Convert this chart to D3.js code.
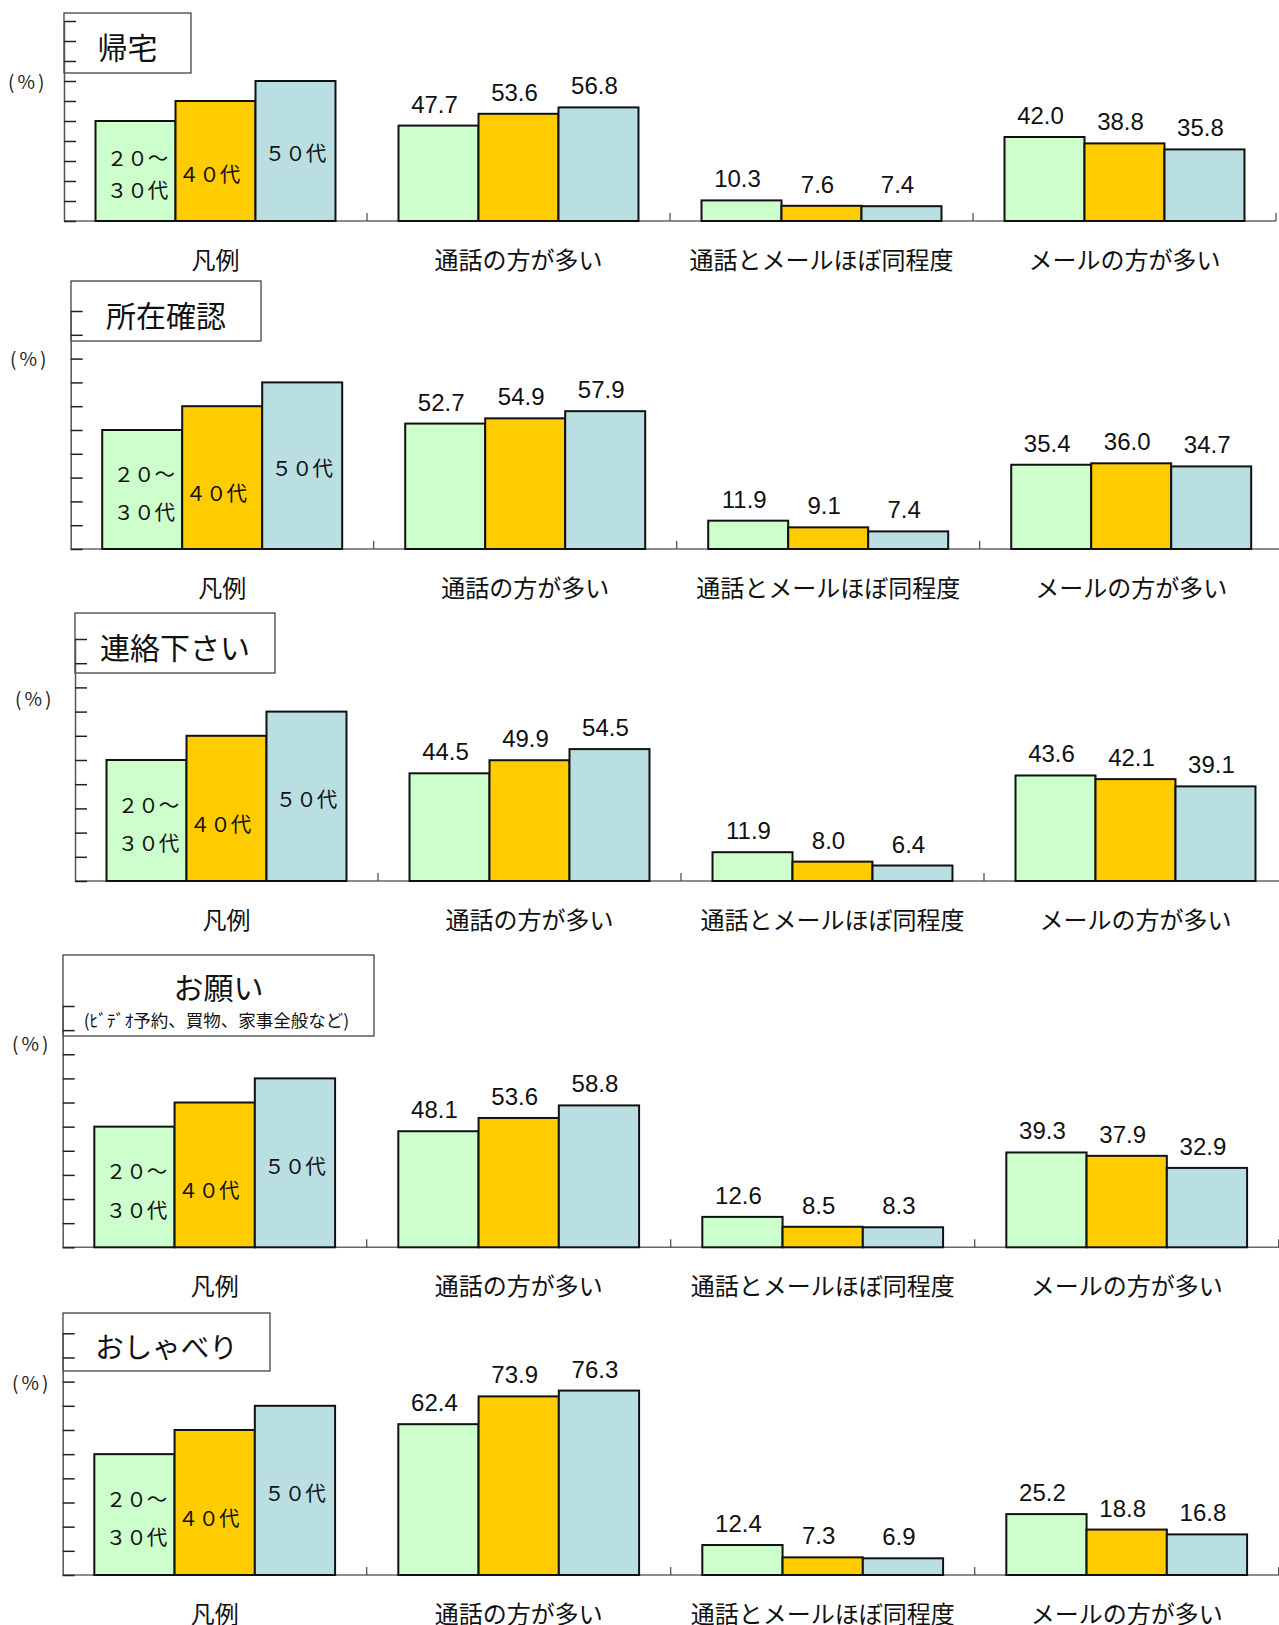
<!DOCTYPE html>
<html>
<head>
<meta charset="utf-8">
<title>通話とメールの使い分け</title>
<script src="https://cdnjs.cloudflare.com/ajax/libs/d3/7.8.5/d3.min.js"></script>
<style>
    body { margin: 0; background: #fff; }
    svg text { font-family: "Noto Sans CJK JP", "Noto Sans", sans-serif; }
</style>
</head>
<body>
<div id="vis"></div>
<script>
// categories and series
var categories = ["凡例", "通話の方が多い", "通話とメールほぼ同程度", "メールの方が多い"];
var ageGroups = ["20～30代", "40代", "50代"];
var legendLabels = [["２０～", "３０代"], ["４０代"], ["５０代"]];
var legendValues = [50, 60, 70];   // the sample bars in the 凡例 slot
var titles = ["帰宅", "所在確認", "連絡下さい", "お願い", "おしゃべり"];
var subtitles = ["", "", "", "(ﾋﾞﾃﾞｵ予約、買物、家事全般など)", ""];
var yTicks = [0, 10, 20, 30, 40, 50, 60, 70, 80, 90, 100];

// values (%) : one row per category (通話 / 同程度 / メール), one value per age group
var kitaku   = [[47.7, 53.6, 56.8], [10.3, 7.6, 7.4], [42.0, 38.8, 35.8]];
var shozai   = [[52.7, 54.9, 57.9], [11.9, 9.1, 7.4], [35.4, 36.0, 34.7]];
var renraku  = [[44.5, 49.9, 54.5], [11.9, 8.0, 6.4], [43.6, 42.1, 39.1]];
var onegai   = [[48.1, 53.6, 58.8], [12.6, 8.5, 8.3], [39.3, 37.9, 32.9]];
var oshaberi = [[62.4, 73.9, 76.3], [12.4, 7.3, 6.9], [25.2, 18.8, 16.8]];

var colors = ["#ccffcc", "#ffcc00", "#b9dfe3"];

// where each of the five little charts sits on the page
var panels = [
    { data: kitaku,   left: 64,   base: 221,    top: 21,     step: 303, box: [64, 13, 127, 60],   titleSize: 30, pctX: 8,  pctY: 80 },
    { data: shozai,   left: 70.7, base: 549,    top: 311,    step: 303, box: [71, 281, 190, 60],  titleSize: 30, pctX: 10, pctY: 357 },
    { data: renraku,  left: 75,   base: 881,    top: 639,    step: 303, box: [75, 613, 200, 60],  titleSize: 30, pctX: 15, pctY: 697 },
    { data: onegai,   left: 62.7, base: 1247.3, top: 1006,   step: 304, box: [63, 955, 311, 81],  titleSize: 30, pctX: 12, pctY: 1042 },
    { data: oshaberi, left: 62.7, base: 1575,   top: 1333.3, step: 304, box: [63, 1313, 207, 58], titleSize: 28.5, pctX: 12, pctY: 1381 }
];

var svg = d3.select("#vis").append("svg")
    .attr("width", 1279)
    .attr("height", 1625);

panels.forEach(function(p, pi) {
    var g = svg.append("g");
    var rows = [legendValues].concat(p.data);

    var x = d3.scaleBand().domain(categories)
        .range([p.left, p.left + 4 * p.step])
        .paddingInner(0.208).paddingOuter(0.104);
    var xs = d3.scaleBand().domain(ageGroups).range([0, x.bandwidth()]);
    var y = d3.scaleLinear().domain([0, 100]).range([p.base, p.top]);

    // baseline + slot separators
    g.append("line")
        .attr("x1", p.left).attr("x2", p.left + 4 * p.step)
        .attr("y1", y(0)).attr("y2", y(0))
        .attr("stroke", "#666").attr("stroke-width", 1.5);
    g.selectAll(".sep").data(categories).enter().append("line")
        .attr("x1", function(d) { return x(d) - x.step() * x.paddingOuter() + x.step(); })
        .attr("x2", function(d) { return x(d) - x.step() * x.paddingOuter() + x.step(); })
        .attr("y1", y(0)).attr("y2", y(0) - 8)
        .attr("stroke", "#444").attr("stroke-width", 1.2);

    // title box
    var b = p.box;
    g.append("rect")
        .attr("x", b[0]).attr("y", b[1]).attr("width", b[2]).attr("height", b[3])
        .attr("fill", "#fff").attr("stroke", "#333").attr("stroke-width", 1.2);
    if (subtitles[pi]) {
        g.append("text").attr("x", b[0] + b[2] / 2).attr("y", b[1] + 31)
            .attr("text-anchor", "middle").attr("dominant-baseline", "central")
            .attr("font-size", p.titleSize).attr("fill", "#111").text(titles[pi]);
        g.append("text").attr("x", b[0] + b[2] / 2 - 2).attr("y", b[1] + 64)
            .attr("text-anchor", "middle").attr("dominant-baseline", "central")
            .attr("font-size", 17.5).attr("fill", "#111").text(subtitles[pi]);
    } else {
        g.append("text").attr("x", b[0] + b[2] / 2).attr("y", b[1] + b[3] / 2 + 3)
            .attr("text-anchor", "middle").attr("dominant-baseline", "central")
            .attr("font-size", p.titleSize).attr("fill", "#111").text(titles[pi]);
    }

    // y axis, ticks pointing inwards, no numbers
    var ax = g.append("g")
        .attr("transform", "translate(" + p.left + ",0)")
        .call(d3.axisLeft(y).tickValues(yTicks).tickSize(-12).tickSizeOuter(0).tickFormat(""));
    ax.select(".domain").attr("stroke", "#555").attr("stroke-width", 1.5);
    ax.selectAll(".tick line").attr("stroke", "#222").attr("stroke-width", 1.5);

    g.append("text")
        .attr("x", p.pctX).attr("y", p.pctY)
        .attr("dominant-baseline", "central")
        .attr("font-size", 19).attr("letter-spacing", 3).attr("fill", "#222")
        .text("(%)");

    // bars
    rows.forEach(function(vals, ci) {
        var cat = categories[ci];
        var grp = g.append("g").attr("transform", "translate(" + x(cat) + ",0)");
        grp.selectAll("rect").data(vals).enter().append("rect")
            .attr("x", function(d, i) { return xs(ageGroups[i]); })
            .attr("y", function(d) { return y(d); })
            .attr("width", xs.bandwidth())
            .attr("height", function(d) { return y(0) - y(d); })
            .attr("fill", function(d, i) { return colors[i]; })
            .attr("stroke", "#111").attr("stroke-width", 2);

        if (ci > 0) {
            grp.selectAll(".val").data(vals).enter().append("text")
                .attr("x", function(d, i) { return xs(ageGroups[i]) + xs.bandwidth() / 2 - 4; })
                .attr("y", function(d) { return y(d) - 13; })
                .attr("text-anchor", "middle")
                .style("font-family", "'Liberation Sans', Arial, sans-serif")
                .attr("font-size", 24).attr("fill", "#111")
                .text(function(d) { return d.toFixed(1); });
        } else {
            // age labels written inside the sample bars
            var spots = [[0.64, 0.32], [0.4], [0.49]];
            var shift = [2, -6, 0];
            legendLabels.forEach(function(lines, i) {
                lines.forEach(function(t, li) {
                    grp.append("text")
                        .attr("x", xs(ageGroups[i]) + xs.bandwidth() / 2 + shift[i])
                        .attr("y", y(vals[i] * spots[i][li]))
                        .attr("text-anchor", "middle").attr("dominant-baseline", "central")
                        .attr("font-size", 20.5).attr("fill", "#111")
                        .text(t);
                });
            });
        }
    });

    // category names under the baseline
    g.selectAll(".cat").data(categories).enter().append("text")
        .attr("x", function(d) { return x(d) + x.bandwidth() / 2; })
        .attr("y", y(0) + 37)
        .attr("text-anchor", "middle").attr("dominant-baseline", "central")
        .attr("font-size", 24).attr("fill", "#111")
        .text(function(d) { return d; });
});
</script>
</body>
</html>
